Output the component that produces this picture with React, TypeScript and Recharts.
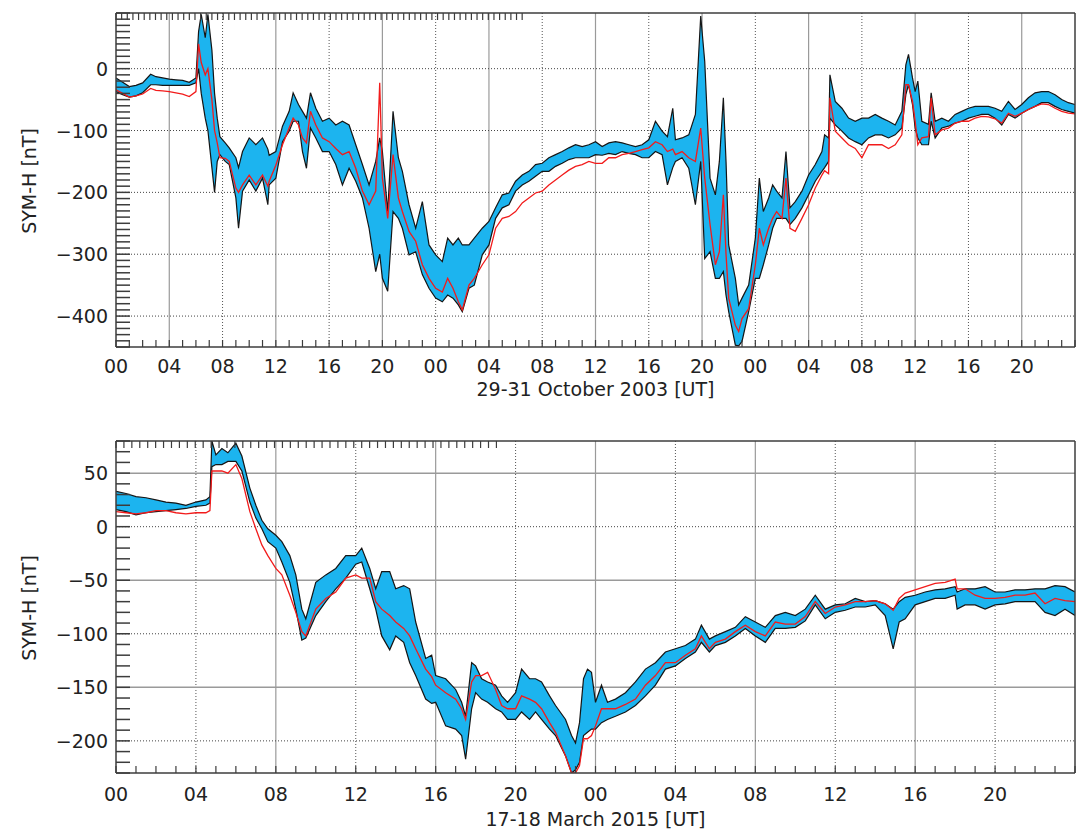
import { Area, CartesianGrid, ComposedChart, Line, XAxis, YAxis } from "recharts";

// 29-31 October 2003 — hours since 29 Oct 00 UT
const octHours = [
  0, 0.5, 1, 1.5, 2, 2.6, 3, 3.5, 4, 4.5, 5, 5.5, 6, 6.2, 6.4, 6.7, 6.9, 7.2, 7.4, 7.6, 7.8, 8.2, 8.5, 9, 9.2, 9.5,
  10, 10.5, 11, 11.4, 11.5, 12, 12.5, 13, 13.3, 13.7, 14, 14.3, 14.6, 15, 15.5, 16, 16.5, 17, 17.5, 18, 18.5, 19,
  19.5, 19.8, 20, 20.4, 20.8, 21.2, 21.5, 22, 22.5, 23, 23.5, 24, 24.5, 24.9, 25.3, 25.7, 26, 26.5, 26.9, 27.5, 28,
  28.5, 29, 29.5, 30, 30.5, 31, 31.5, 32, 32.5, 33, 33.5, 34, 34.5, 35, 35.5, 36, 36.5, 37, 37.5, 38, 38.5, 39, 39.5,
  40, 40.5, 41, 41.4, 41.8, 42, 42.5, 43, 43.5, 43.9, 44.2, 44.6, 45, 45.3, 45.6, 45.8, 46, 46.5, 46.75, 47, 47.5, 48,
  48.3, 48.6, 49, 49.3, 49.6, 50, 50.3, 50.6, 51, 51.5, 52, 52.5, 53, 53.2, 53.5, 53.6, 54, 54.5, 55, 55.5, 56, 56.5,
  57, 57.5, 58, 58.5, 59, 59.3, 59.5, 59.8, 60, 60.2, 60.5, 61, 61.2, 61.5, 62, 62.5, 63, 63.5, 64, 64.5, 65, 65.5,
  66, 66.5, 67, 67.5, 68, 68.5, 69, 69.5, 70, 70.5, 71, 71.5, 72,
];
const octUpper = [
  -15, -22, -29, -27, -23, -9, -13, -15, -17, -18, -19, -22, -15, 60, 88, 50, 88, 30, -40, -80, -110, -120, -128, -144, -160, -134,
  -112, -123, -112, -130, -140, -134, -93, -69, -39, -58, -69, -80, -39, -64, -85, -80, -91, -85, -91, -123, -155, -188,
  -150, -112, -134, -231, -69, -144, -166, -220, -258, -215, -285, -301, -312, -274, -285, -274, -285, -285, -274, -258, -247,
  -225, -204, -201, -182, -172, -166, -155, -153, -144, -139, -134, -128, -123, -126, -123, -118, -126, -120, -118, -120, -123, -126, -123,
  -115, -85, -101, -110, -64, -115, -112, -107, -74, 85, 12, -177, -204, -150, -47, -150, -285, -339, -382, -371, -350, -274,
  -177, -231, -209, -188, -198, -209, -134, -225, -215, -198, -172, -155, -134, -107, -112, -10, -53, -64, -80, -85, -80, -80,
  -74, -80, -85, -91, -69, 6, 23, -15, -37, -20, -85, -90, -39, -85, -80, -85, -74, -69, -64, -61, -61, -61,
  -64, -69, -53, -66, -58, -47, -39, -37, -37, -42, -50, -55, -58,
];
const octLower = [
  -37, -42, -46, -44, -39, -26, -26, -27, -27, -27, -27, -27, -23, 0, -40, -80, -100, -160, -200, -150, -139, -150, -155, -209, -258, -198,
  -180, -198, -177, -220, -188, -177, -118, -101, -85, -85, -134, -161, -96, -112, -134, -134, -155, -188, -161, -182, -209, -258,
  -328, -300, -339, -360, -231, -242, -258, -301, -296, -333, -355, -371, -377, -366, -371, -382, -393, -355, -350, -301, -285,
  -242, -225, -220, -198, -188, -182, -174, -166, -166, -158, -153, -147, -144, -144, -144, -139, -140, -137, -139, -134, -137, -139, -144,
  -144, -134, -139, -188, -160, -150, -144, -161, -220, -150, -307, -296, -339, -339, -328, -366, -393, -447, -448, -441, -393, -339,
  -339, -317, -285, -258, -242, -242, -242, -252, -242, -225, -204, -182, -166, -160, -150, -80, -91, -101, -112, -118, -123, -112,
  -107, -107, -112, -107, -96, -42, -26, -58, -96, -112, -123, -123, -85, -112, -96, -93, -88, -85, -80, -77, -74, -74,
  -80, -91, -74, -80, -72, -66, -61, -55, -55, -61, -66, -69, -72,
];
const octModel = [
  -34, -40, -46, -44, -41, -32, -35, -36, -37, -39, -41, -45, -37, 40, 10, -10, 0, -50, -100, -120, -144, -145, -150, -193, -200, -188,
  -172, -188, -172, -190, -182, -156, -123, -96, -80, -91, -112, -120, -69, -91, -112, -118, -129, -139, -134, -161, -198, -220,
  -198, -23, -177, -242, -139, -209, -231, -263, -279, -317, -339, -355, -361, -339, -355, -377, -390, -350, -339, -317, -301,
  -258, -242, -239, -231, -217, -209, -201, -198, -188, -180, -172, -164, -158, -155, -150, -153, -153, -144, -144, -139, -137, -134, -131,
  -128, -118, -123, -134, -130, -139, -134, -144, -150, -96, -177, -252, -317, -296, -204, -300, -371, -415, -425, -404, -388, -317,
  -258, -285, -258, -242, -231, -242, -177, -258, -263, -242, -220, -193, -172, -165, -170, -47, -101, -112, -123, -129, -144, -123,
  -123, -123, -129, -123, -107, -26, -26, -53, -85, -123, -112, -110, -47, -107, -99, -96, -88, -85, -85, -80, -77, -78,
  -81, -88, -72, -77, -72, -66, -61, -57, -58, -64, -69, -72, -73,
];

// 17-18 March 2015 — hours since 17 Mar 00 UT
const marHours = [
  0, 0.5, 1, 1.5, 2, 2.5, 3, 3.5, 4, 4.5, 4.7, 4.8, 5, 5.3, 5.6, 6, 6.3, 6.7, 7, 7.3, 7.6, 8, 8.3, 8.7, 9, 9.3, 9.5,
  10, 10.5, 11, 11.5, 12, 12.3, 12.7, 13, 13.3, 13.7, 14, 14.4, 14.7, 15, 15.5, 15.8, 16, 16.5, 17, 17.3, 17.5, 17.8,
  18, 18.3, 18.6, 19, 19.3, 19.6, 20, 20.3, 20.7, 21, 21.3, 21.7, 22, 22.5, 22.8, 23, 23.2, 23.4, 23.6, 23.8, 24, 24.3,
  24.6, 25, 25.5, 26, 26.5, 27, 27.5, 28, 28.5, 29, 29.3, 29.7, 30, 30.5, 31, 31.5, 32, 32.5, 33, 33.5, 34, 34.5, 35,
  35.5, 36, 36.5, 37, 37.5, 38, 38.5, 38.9, 39.2, 39.5, 40, 40.5, 41, 41.5, 42, 42.1, 42.5, 43, 43.5, 44, 44.5, 45,
  45.5, 46, 46.5, 47, 47.5, 48,
];
const marUpper = [
  33, 31, 28, 27, 25, 23, 22, 20, 23, 25, 28, 80, 67, 73, 69, 78, 66, 36, 20, 6, -2, -8, -14, -27, -45, -77, -86,
  -52, -45, -39, -27, -27, -20, -39, -58, -42, -42, -58, -55, -58, -89, -123, -120, -139, -142, -152, -164, -177, -127,
  -130, -142, -145, -148, -158, -164, -155, -133, -142, -142, -145, -158, -167, -180, -195, -202, -183, -142, -133, -136, -164, -148,
  -164, -161, -155, -145, -133, -127, -117, -114, -111, -105, -92, -105, -102, -98, -94, -84, -89, -94, -83, -80, -83, -77, -64,
  -77, -73, -72, -67, -70, -69, -72, -77, -70, -66, -64, -61, -59, -58, -56, -61, -58, -58, -56, -61, -61, -59,
  -59, -58, -58, -55, -56, -61,
];
const marLower = [
  16, 14, 11, 13, 14, 15, 16, 17, 19, 20, 22, 56, 58, 58, 61, 61, 52, 23, 8, -2, -14, -20, -33, -52, -77, -106, -104,
  -83, -70, -58, -48, -35, -33, -58, -77, -102, -115, -102, -108, -127, -139, -161, -165, -164, -186, -189, -195, -217, -170,
  -155, -161, -164, -170, -173, -180, -180, -173, -180, -173, -180, -189, -195, -214, -230, -227, -220, -195, -192, -189, -189, -183,
  -180, -177, -173, -167, -158, -148, -133, -130, -123, -117, -108, -117, -111, -108, -102, -95, -102, -108, -95, -95, -94, -88, -73,
  -86, -80, -78, -75, -75, -73, -83, -114, -89, -86, -73, -70, -67, -67, -64, -77, -73, -73, -77, -73, -72, -70,
  -70, -70, -80, -83, -77, -83,
];
const marModel = [
  14, 13, 12, 13, 15, 15, 13, 12, 13, 13, 15, 52, 52, 52, 50, 58, 45, 14, -2, -17, -27, -39, -45, -64, -80, -98, -102,
  -77, -67, -61, -48, -45, -48, -48, -70, -77, -83, -89, -95, -102, -114, -133, -140, -148, -155, -161, -170, -180, -145,
  -139, -139, -136, -152, -167, -170, -170, -158, -161, -164, -170, -183, -192, -214, -230, -230, -223, -198, -198, -195, -186, -170,
  -170, -170, -166, -161, -148, -139, -127, -127, -120, -114, -102, -114, -108, -105, -98, -92, -98, -102, -89, -91, -91, -84, -70,
  -81, -75, -73, -70, -70, -69, -72, -78, -67, -62, -59, -56, -53, -52, -49, -58, -58, -64, -67, -67, -66, -64,
  -64, -62, -72, -67, -69, -70,
];

// tick labels
const octLabelHours = [0, 4, 8, 12, 16, 20, 24, 28, 32, 36, 40, 44, 48, 52, 56, 60, 64, 68];
const octXLabels = ["00", "04", "08", "12", "16", "20", "00", "04", "08", "12", "16", "20", "00", "04", "08", "12", "16", "20"];
const marLabelHours = [0, 4, 8, 12, 16, 20, 24, 28, 32, 36, 40, 44];
const marXLabels = ["00", "04", "08", "12", "16", "20", "00", "04", "08", "12", "16", "20"];
const octYValues = [0, -100, -200, -300, -400];
const octYLabels = ["0", "−100", "−200", "−300", "−400"];
const marYValues = [50, 0, -50, -100, -150, -200];
const marYLabels = ["50", "0", "−50", "−100", "−150", "−200"];

const INK = "#3c3c3c";
const FONT = "'DejaVu Sans', sans-serif";

function steps(from: number, to: number, by: number) {
  const out: number[] = [];
  for (let v = from; v <= to + 1e-9; v += by) out.push(v);
  return out;
}

function BottomTick(props: any) {
  const { x, y, payload, labels, gap } = props;
  const lab = labels.get(payload.value);
  return (
    <g>
      <line x1={x} x2={x} y1={y} y2={y - 7} stroke={INK} strokeWidth={1.2} />
      {lab !== undefined && (
        <text x={x} y={y + gap} textAnchor="middle" dominantBaseline="central" fill="#222" fontSize={19} fontFamily={FONT}>
          {lab}
        </text>
      )}
    </g>
  );
}

function TopTick(props: any) {
  const { x, y } = props;
  return <line x1={x} x2={x} y1={y} y2={y + 7} stroke={INK} strokeWidth={1.2} />;
}

function LeftTick(props: any) {
  const { x, y, payload, labels } = props;
  const lab = labels.get(payload.value);
  return (
    <g>
      <line x1={x} x2={x + 14} y1={y} y2={y} stroke={INK} strokeWidth={1.5} />
      {lab !== undefined && (
        <text x={x - 8} y={y} textAnchor="end" dominantBaseline="central" fill="#222" fontSize={19} fontFamily={FONT}>
          {lab}
        </text>
      )}
    </g>
  );
}

function RightTick(props: any) {
  const { x, y } = props;
  return <line x1={x} x2={x - 13} y1={y} y2={y} stroke={INK} strokeWidth={1.5} />;
}

type PanelProps = {
  hours: number[];
  upper: number[];
  lower: number[];
  model: number[];
  xMax: number;
  yDomain: [number, number];
  labelHours: number[];
  xLabels: string[];
  yValues: number[];
  yLabels: string[];
  solidX: number[];
  dottedX: number[];
  solidY: number[];
  dottedY: number[];
  marginTop: number;
  marginBottom: number;
  labelGap: number;
};

function Panel(p: PanelProps) {
  const rows = p.hours.map((h, i) => ({ h, hi: p.upper[i], lo: p.lower[i], red: p.model[i] }));
  const xMap = new Map(p.labelHours.map((h, i) => [h, p.xLabels[i]]));
  const yMap = new Map(p.yValues.map((v, i) => [v, p.yLabels[i]]));
  const xTicks = steps(0, p.xMax, 1);
  const yTicks = steps(p.yDomain[0], p.yDomain[1], 10);
  const axisLine = { stroke: INK, strokeWidth: 1.5 };
  return (
    <ComposedChart
      width={1083}
      height={417}
      data={rows}
      margin={{ top: p.marginTop, right: 7, bottom: p.marginBottom, left: 56 }}
    >
      <CartesianGrid vertical horizontal={false} verticalValues={p.solidX} stroke="#9a9a9a" strokeWidth={1.2} />
      <CartesianGrid vertical horizontal={false} verticalValues={p.dottedX} stroke="#555" strokeDasharray="1 2" />
      {p.solidY.length > 0 && (
        <CartesianGrid vertical={false} horizontal horizontalValues={p.solidY} stroke="#9a9a9a" strokeWidth={1.5} />
      )}
      <CartesianGrid vertical={false} horizontal horizontalValues={p.dottedY} stroke="#444" strokeDasharray="1 2" />
      <XAxis
        dataKey="h"
        type="number"
        domain={[0, p.xMax]}
        allowDataOverflow
        ticks={xTicks}
        interval={0}
        height={1}
        tickSize={0}
        tickMargin={0}
        tickLine={false}
        axisLine={axisLine}
        tick={(t: any) => <BottomTick {...t} labels={xMap} gap={p.labelGap} />}
      />
      <XAxis
        xAxisId="top"
        orientation="top"
        type="number"
        domain={[0, p.xMax]}
        ticks={xTicks}
        interval={0}
        height={1}
        tickSize={0}
        tickMargin={0}
        tickLine={false}
        axisLine={axisLine}
        tick={(t: any) => <TopTick {...t} />}
      />
      <YAxis
        type="number"
        domain={p.yDomain}
        allowDataOverflow
        ticks={yTicks}
        interval={0}
        width={60}
        tickSize={0}
        tickMargin={0}
        tickLine={false}
        axisLine={axisLine}
        tick={(t: any) => <LeftTick {...t} labels={yMap} />}
      />
      <YAxis
        yAxisId="right"
        orientation="right"
        type="number"
        domain={p.yDomain}
        ticks={yTicks}
        interval={0}
        width={1}
        tickSize={0}
        tickMargin={0}
        tickLine={false}
        axisLine={axisLine}
        tick={(t: any) => <RightTick {...t} />}
      />
      <Area
        type="linear"
        dataKey={(d: any) => [d.lo, d.hi]}
        stroke="#151515"
        strokeWidth={1.2}
        fill="#1cb4ef"
        fillOpacity={1}
        isAnimationActive={false}
        activeDot={false}
      />
      <Line
        type="linear"
        dataKey="red"
        stroke="#f21b1b"
        strokeWidth={1.3}
        dot={false}
        activeDot={false}
        isAnimationActive={false}
      />
    </ComposedChart>
  );
}

const titleStyle = {
  position: "absolute" as const,
  left: 116,
  width: 959,
  textAlign: "center" as const,
  fontFamily: FONT,
  fontSize: 19,
  lineHeight: "20px",
  color: "#222",
  whiteSpace: "nowrap" as const,
};

const yLabelStyle = {
  position: "absolute" as const,
  left: 29,
  transform: "translate(-50%, -50%) rotate(-90deg)",
  fontFamily: FONT,
  fontSize: 19,
  color: "#222",
  whiteSpace: "nowrap" as const,
};

export default function App() {
  return (
    <div style={{ position: "absolute", left: 0, top: 0, width: 1083, height: 834, background: "#fff", overflow: "hidden" }}>
      <div style={{ position: "absolute", left: 0, top: 0 }}>
        <Panel
          hours={octHours}
          upper={octUpper}
          lower={octLower}
          model={octModel}
          xMax={72}
          yDomain={[-450, 90]}
          labelHours={octLabelHours}
          xLabels={octXLabels}
          yValues={octYValues}
          yLabels={octYLabels}
          solidX={[4, 12, 20, 28, 36, 44, 52, 60, 68]}
          dottedX={[8, 16, 24, 32, 40, 48, 56, 64]}
          solidY={[]}
          dottedY={[0, -100, -200, -300, -400]}
          marginTop={12}
          marginBottom={69}
          labelGap={19}
        />
      </div>
      <div style={{ position: "absolute", left: 0, top: 417 }}>
        <Panel
          hours={marHours}
          upper={marUpper}
          lower={marLower}
          model={marModel}
          xMax={48}
          yDomain={[-230, 80]}
          labelHours={marLabelHours}
          xLabels={marXLabels}
          yValues={marYValues}
          yLabels={marYLabels}
          solidX={[8, 16, 24, 32, 40]}
          dottedX={[4, 12, 20, 28, 36, 44]}
          solidY={[50, -50, -150]}
          dottedY={[0, -100, -200]}
          marginTop={23}
          marginBottom={60}
          labelGap={21}
        />
      </div>
      <div style={{ ...titleStyle, top: 379 }}>29-31 October 2003 [UT]</div>
      <div style={{ ...titleStyle, top: 809 }}>17-18 March 2015 [UT]</div>
      <div style={{ ...yLabelStyle, top: 181 }}>SYM-H [nT]</div>
      <div style={{ ...yLabelStyle, top: 608 }}>SYM-H [nT]</div>
    </div>
  );
}
